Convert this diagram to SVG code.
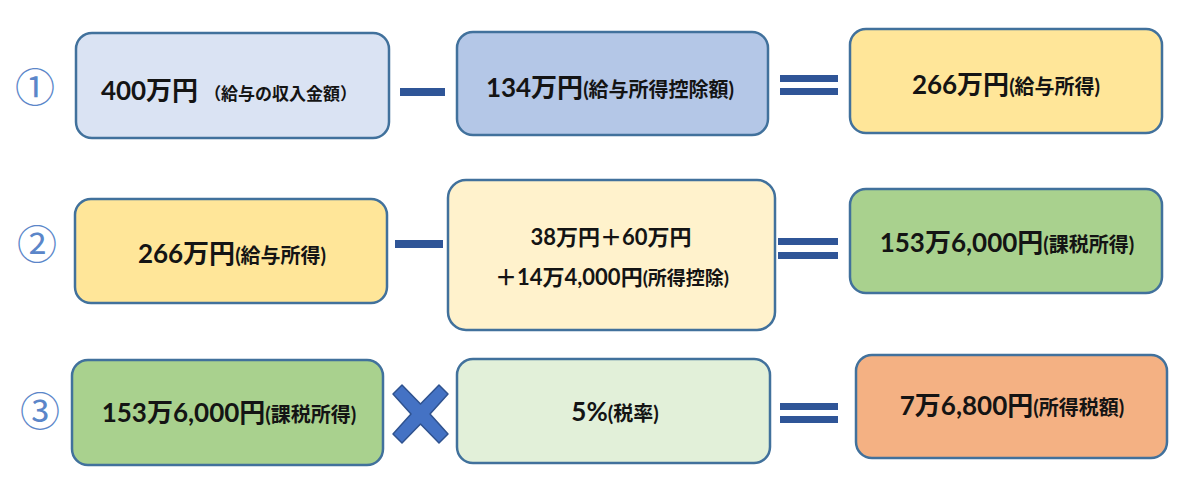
<svg xmlns="http://www.w3.org/2000/svg" width="1200" height="498" viewBox="0 0 1200 498">
  <style>
    .box { stroke: #41719C; stroke-width: 2.5; }
    .t { font-family: "Lato", "Noto Sans CJK JP", sans-serif; font-weight: bold; fill: #141414; text-anchor: middle; }
    .big { font-size: 26px; }
    .mid { font-size: 22px; }
    .sm { font-size: 20px; }
    .num { font-family: "Noto Sans CJK JP", sans-serif; font-size: 40px; fill: #5B86C9; text-anchor: middle; }
    .op { fill: #2F5597; }
  </style>
  <rect width="1200" height="498" fill="#ffffff"/>

  <g id="step-labels">
    <text class="num" x="35" y="102">①</text>
    <text class="num" x="37" y="259">②</text>
    <text class="num" x="40" y="426">③</text>
  </g>

  <g id="connectors">
    <rect class="op" x="400" y="88" width="45" height="8"/>
    <rect class="op" x="780" y="75" width="58" height="7"/>
    <rect class="op" x="780" y="88" width="58" height="7"/>
    <rect class="op" x="395" y="240" width="48" height="8"/>
    <rect class="op" x="778" y="238" width="60" height="7"/>
    <rect class="op" x="778" y="252" width="60" height="7"/>
    <polygon points="393,394 402,385 420.5,404 439,385 448,394 430,414 448,434 439,443 420.5,424 402,443 393,434 411,414" fill="#4472C4" stroke="#2F528F" stroke-width="1.5" stroke-linejoin="round"/>
    <rect class="op" x="780" y="403" width="58" height="7"/>
    <rect class="op" x="780" y="416" width="58" height="7"/>
  </g>

  <g id="node-income">
    <rect class="box" x="76" y="33" width="313" height="105" rx="16" fill="#DAE3F3"/>
    <text class="t big" x="229" y="100">400万円<tspan font-size="17px" dx="6">（給与の収入金額）</tspan></text>
  </g>
  <g id="node-deduction">
    <rect class="box" x="457" y="32" width="311" height="103" rx="16" fill="#B4C7E7"/>
    <text class="t big" x="610" y="97">134万円<tspan class="sm">(給与所得控除額)</tspan></text>
  </g>
  <g id="node-salary-income">
    <rect class="box" x="850" y="29" width="312" height="104" rx="16" fill="#FFE699"/>
    <text class="t big" x="1006" y="94">266万円<tspan class="sm">(給与所得)</tspan></text>
  </g>

  <g id="node-salary-income-2">
    <rect class="box" x="75" y="199" width="312" height="104" rx="16" fill="#FFE699"/>
    <text class="t big" x="232" y="263">266万円<tspan class="sm">(給与所得)</tspan></text>
  </g>
  <g id="node-income-deduction">
    <rect class="box" x="448" y="180" width="327" height="150" rx="18" fill="#FFF2CC"/>
    <text class="t mid" x="611" y="245">38万円＋60万円</text>
    <text class="t mid" x="612" y="285">＋14万4,000円<tspan font-size="19px">(所得控除)</tspan></text>
  </g>
  <g id="node-taxable-income">
    <rect class="box" x="850" y="189" width="312" height="104" rx="16" fill="#A9D18E"/>
    <text class="t big" x="1007" y="252">153万6,000円<tspan class="sm">(課税所得)</tspan></text>
  </g>

  <g id="node-taxable-income-2">
    <rect class="box" x="72" y="360" width="311" height="105" rx="16" fill="#A9D18E"/>
    <text class="t big" x="229" y="422">153万6,000円<tspan class="sm">(課税所得)</tspan></text>
  </g>
  <g id="node-tax-rate">
    <rect class="box" x="457" y="359" width="313" height="104" rx="16" fill="#E2F0D9"/>
    <text class="t big" x="615" y="421">5%<tspan class="sm">(税率)</tspan></text>
  </g>
  <g id="node-income-tax">
    <rect class="box" x="856" y="355" width="311" height="103" rx="16" fill="#F4B183"/>
    <text class="t big" x="1012" y="415">7万6,800円<tspan class="sm">(所得税額)</tspan></text>
  </g>
</svg>
